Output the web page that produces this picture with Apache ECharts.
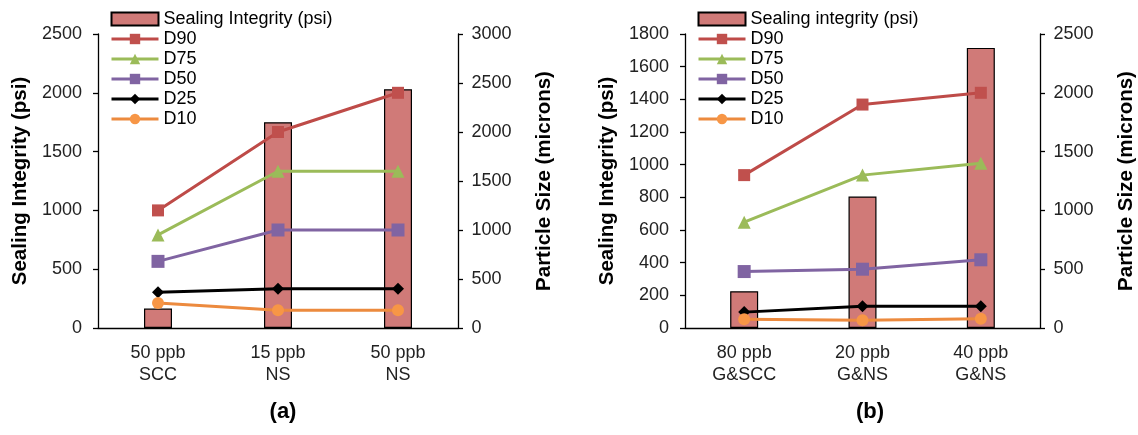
<!DOCTYPE html>
<html>
<head>
<meta charset="utf-8">
<script src="https://cdn.jsdelivr.net/npm/echarts@6/dist/echarts.min.js"></script>
<style>
  html, body { margin: 0; padding: 0; background: #fff; }
  #chart { width: 1138px; height: 435px; }
</style>
</head>
<body>
<div id="chart"></div>
<script>
// panel (a)
var catsA = ['50 ppb\nSCC', '15 ppb\nNS', '50 ppb\nNS'];
var sealA = [165, 1750, 2030];
var d90A = [1200, 2000, 2400];
var d75A = [950, 1600, 1600];
var d50A = [680, 1000, 1000];
var d25A = [365, 400, 400];
var d10A = [255, 180, 180];

// panel (b)
var catsB = ['80 ppb\nG&SCC', '20 ppb\nG&NS', '40 ppb\nG&NS'];
var sealB = [225, 805, 1715];
var d90B = [1300, 1900, 2000];
var d75B = [900, 1300, 1400];
var d50B = [480, 500, 580];
var d25B = [135, 185, 185];
var d10B = [75, 65, 78];

var FONT = 'Liberation Sans, Arial, sans-serif';
var lineDefs = [
    { name: 'D90', symbol: 'rect', size: 12, line: '#BE4B48', fill: '#C0504D' },
    { name: 'D75', symbol: 'triangle', size: 13, line: '#9BBB59', fill: '#9BBB59' },
    { name: 'D50', symbol: 'rect', size: 13, line: '#8064A2', fill: '#8064A2' },
    { name: 'D25', symbol: 'diamond', size: 12, line: '#000000', fill: '#000000' },
    { name: 'D10', symbol: 'circle', size: 12, line: '#EC8A3E', fill: '#F79646' }
];

function valueAxis(gridIndex, max, interval, name, gap, pos, margin) {
    return {
        type: 'value', gridIndex: gridIndex, position: pos,
        min: 0, max: max, interval: interval,
        name: name, nameLocation: 'middle', nameGap: gap,
        nameTextStyle: { fontFamily: FONT, fontSize: 20.5, fontWeight: 'bold', color: '#000' },
        axisLine: { show: true, lineStyle: { color: '#000', width: 1.3 } },
        axisTick: { show: true, length: 5, lineStyle: { color: '#000', width: 1.3 } },
        axisLabel: {
            fontFamily: FONT, fontSize: 18, color: '#222', margin: margin,
            formatter: function (v) { return String(v); }
        },
        splitLine: { show: false }
    };
}

function catAxis(gridIndex, cats) {
    return {
        type: 'category', gridIndex: gridIndex, data: cats,
        axisLine: { lineStyle: { color: '#000', width: 1.3 } },
        axisTick: { show: false },
        axisLabel: { fontFamily: FONT, fontSize: 18, color: '#222', margin: 14, lineHeight: 22, interval: 0 }
    };
}

function buildSeries(barName, bars, lines, xi, yl, yr) {
    var s = [{
        name: barName, type: 'bar', xAxisIndex: xi, yAxisIndex: yl,
        data: bars, barWidth: 28,
        itemStyle: { color: '#D07A78', borderColor: '#000', borderWidth: 1.2 }
    }];
    lineDefs.forEach(function (d, i) {
        s.push({
            name: d.name, type: 'line', xAxisIndex: xi, yAxisIndex: yr,
            data: lines[i], symbol: d.symbol, symbolSize: d.size,
            lineStyle: { color: d.line, width: 3 },
            itemStyle: { color: d.fill },
            z: 3
        });
    });
    return s;
}

function legendAt(left, first) {
    return {
        orient: 'vertical', left: left, top: 10, padding: 0,
        itemWidth: 47, itemHeight: 13, itemGap: 2,
        lineStyle: { width: 3 },
        textStyle: { fontFamily: FONT, fontSize: 18, color: '#000', lineHeight: 17 },
        data: [{ name: first, icon: 'rect' }, 'D90', 'D75', 'D50', 'D25', 'D10']
    };
}

var option = {
    animation: false,
    backgroundColor: '#fff',
    title: [
        { text: '(a)', left: 278, top: 396, textAlign: 'center',
          textStyle: { fontFamily: FONT, fontSize: 22, fontWeight: 'bold', color: '#000' } },
        { text: '(b)', left: 865, top: 396, textAlign: 'center',
          textStyle: { fontFamily: FONT, fontSize: 22, fontWeight: 'bold', color: '#000' } }
    ],
    legend: [
        legendAt(110, 'Sealing Integrity (psi)'),
        legendAt(697, 'Sealing integrity (psi)')
    ],
    grid: [
        { left: 98, top: 34, width: 360, height: 294 },
        { left: 685, top: 34, width: 360, height: 294 }
    ],
    xAxis: [catAxis(0, catsA), catAxis(1, catsB)],
    yAxis: [
        valueAxis(0, 2500, 500, 'Sealing Integrity (psi)', 67, 'left', 16),
        valueAxis(0, 3000, 500, 'Particle Size (microns)', 76, 'right', 13.5),
        valueAxis(1, 1800, 200, 'Sealing Integrity (psi)', 67, 'left', 16),
        valueAxis(1, 2500, 500, 'Particle Size (microns)', 76, 'right', 13.5)
    ],
    series: buildSeries('Sealing Integrity (psi)', sealA, [d90A, d75A, d50A, d25A, d10A], 0, 0, 1)
        .concat(buildSeries('Sealing integrity (psi)', sealB, [d90B, d75B, d50B, d25B, d10B], 1, 2, 3))
};

var myChart = echarts.init(document.getElementById('chart'));
myChart.setOption(option, true);
</script>
</body>
</html>
